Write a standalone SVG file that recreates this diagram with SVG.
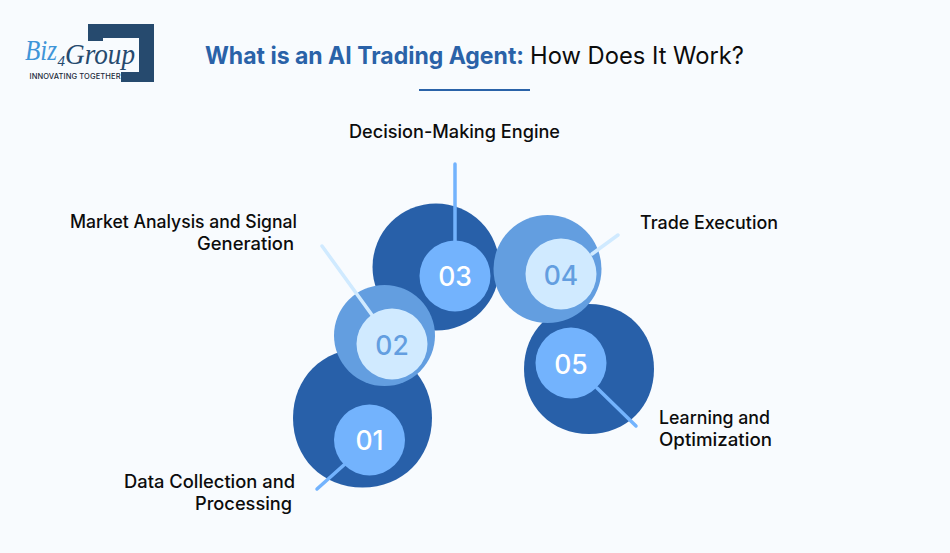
<svg xmlns="http://www.w3.org/2000/svg" width="950" height="553" viewBox="0 0 950 553">
<style>
text{font-family:"Inter","Liberation Sans",sans-serif}
.lb{font-size:18px;font-weight:500;fill:#0c0c0c}
.dk{fill:#2860a9}.md{fill:#639ee0}.in{fill:#73b3fd}.lt{fill:#d0eaff}
.n{font-size:26.500px;font-weight:500;text-anchor:middle}
.w{fill:#fff}.b{fill:#639ee0}
.c{stroke-width:3.5;stroke-linecap:round;fill:none}
.s{font-family:"Liberation Serif",serif;font-style:italic}
</style>
<rect width="950" height="553" fill="#f8fbfe"/>
<g id="logo">
<path d="M88 24H154V82H121V72H139V38H103V41H88Z" fill="#264a6e"/>
<text class="s" x="25" y="60" font-size="29" fill="#3f95d8" textLength="32" lengthAdjust="spacingAndGlyphs">Biz</text>
<text class="s" x="57.500" y="66" font-size="15" fill="#264a6e">4</text>
<text class="s" x="65" y="64" font-size="30" fill="#264a6e" textLength="70" lengthAdjust="spacingAndGlyphs">Group</text>
<text x="29.500" y="78.500" font-size="7.500" font-weight="500" fill="#1c2a3a" textLength="91">INNOVATING TOGETHER</text>
</g>
<g id="title">
<text x="205" y="64" font-size="24" font-weight="700" fill="#2a62a8" textLength="319" lengthAdjust="spacingAndGlyphs">What is an AI Trading Agent:</text>
<text x="530" y="64" font-size="24" font-weight="400" fill="#0c0c0c" textLength="214" lengthAdjust="spacingAndGlyphs">How Does It Work?</text>
<rect x="419" y="89" width="111" height="2" fill="#2a62a8"/>
</g>
<g id="node3">
<circle class="dk" cx="436" cy="267" r="63.500"/>
</g>
<g id="node1">
<path class="dk" d="M362.500 348.500C402.500 348.500 432 378 432 418C432 458 402.500 487.500 362.500 487.500C322.500 487.500 293 458 293 418C293 378 322.500 348.500 362.500 348.500Z"/>
</g>
<g id="node5">
<path class="dk" d="M589 304C626.500 304 654 331.500 654 369C654 406.500 626.500 434 589 434C551.500 434 524 406.500 524 369C524 331.500 551.500 304 589 304Z"/>
</g>
<g id="node4bg"><circle class="md" cx="547.500" cy="269" r="54"/></g>
<g id="node2bg"><circle class="md" cx="384.500" cy="335.500" r="50.500"/></g>
<g id="connectors">
<path class="c" stroke="#73b3fd" d="M455 164V242"/>
<path class="c" stroke="#d0eaff" d="M322 246L372 315"/>
<path class="c" stroke="#d0eaff" d="M618 235L592 254"/>
<path class="c" stroke="#73b3fd" d="M597 388L636 426"/>
<path class="c" stroke="#73b3fd" d="M345 464L317 489"/>
</g>
<g id="n1"><circle class="in" cx="369.500" cy="440" r="35.500"/><text class="n w" x="369.500" y="450">01</text></g>
<g id="n2"><circle class="lt" cx="392" cy="344" r="35.500"/><text class="n b" x="392" y="355">02</text></g>
<g id="n3"><circle class="in" cx="455" cy="276" r="35.500"/><text class="n w" x="455" y="286">03</text></g>
<g id="n4"><circle class="lt" cx="561" cy="274" r="35.500"/><text class="n b" x="561" y="285">04</text></g>
<g id="n5"><circle class="in" cx="571" cy="363" r="35.500"/><text class="n w" x="571" y="374">05</text></g>
<g id="labels">
<text class="lb" x="349" y="138" textLength="211" lengthAdjust="spacingAndGlyphs">Decision-Making Engine</text>
<text class="lb" x="70" y="228" textLength="227" lengthAdjust="spacingAndGlyphs">Market Analysis and Signal</text>
<text class="lb" x="197" y="250" textLength="97" lengthAdjust="spacingAndGlyphs">Generation</text>
<text class="lb" x="640" y="229" textLength="138" lengthAdjust="spacingAndGlyphs">Trade Execution</text>
<text class="lb" x="659" y="423.500" textLength="111" lengthAdjust="spacingAndGlyphs">Learning and</text>
<text class="lb" x="659" y="445.500" textLength="113" lengthAdjust="spacingAndGlyphs">Optimization</text>
<text class="lb" x="124" y="487.500" textLength="171" lengthAdjust="spacingAndGlyphs">Data Collection and</text>
<text class="lb" x="195" y="509.500" textLength="97" lengthAdjust="spacingAndGlyphs">Processing</text>
</g>
</svg>
